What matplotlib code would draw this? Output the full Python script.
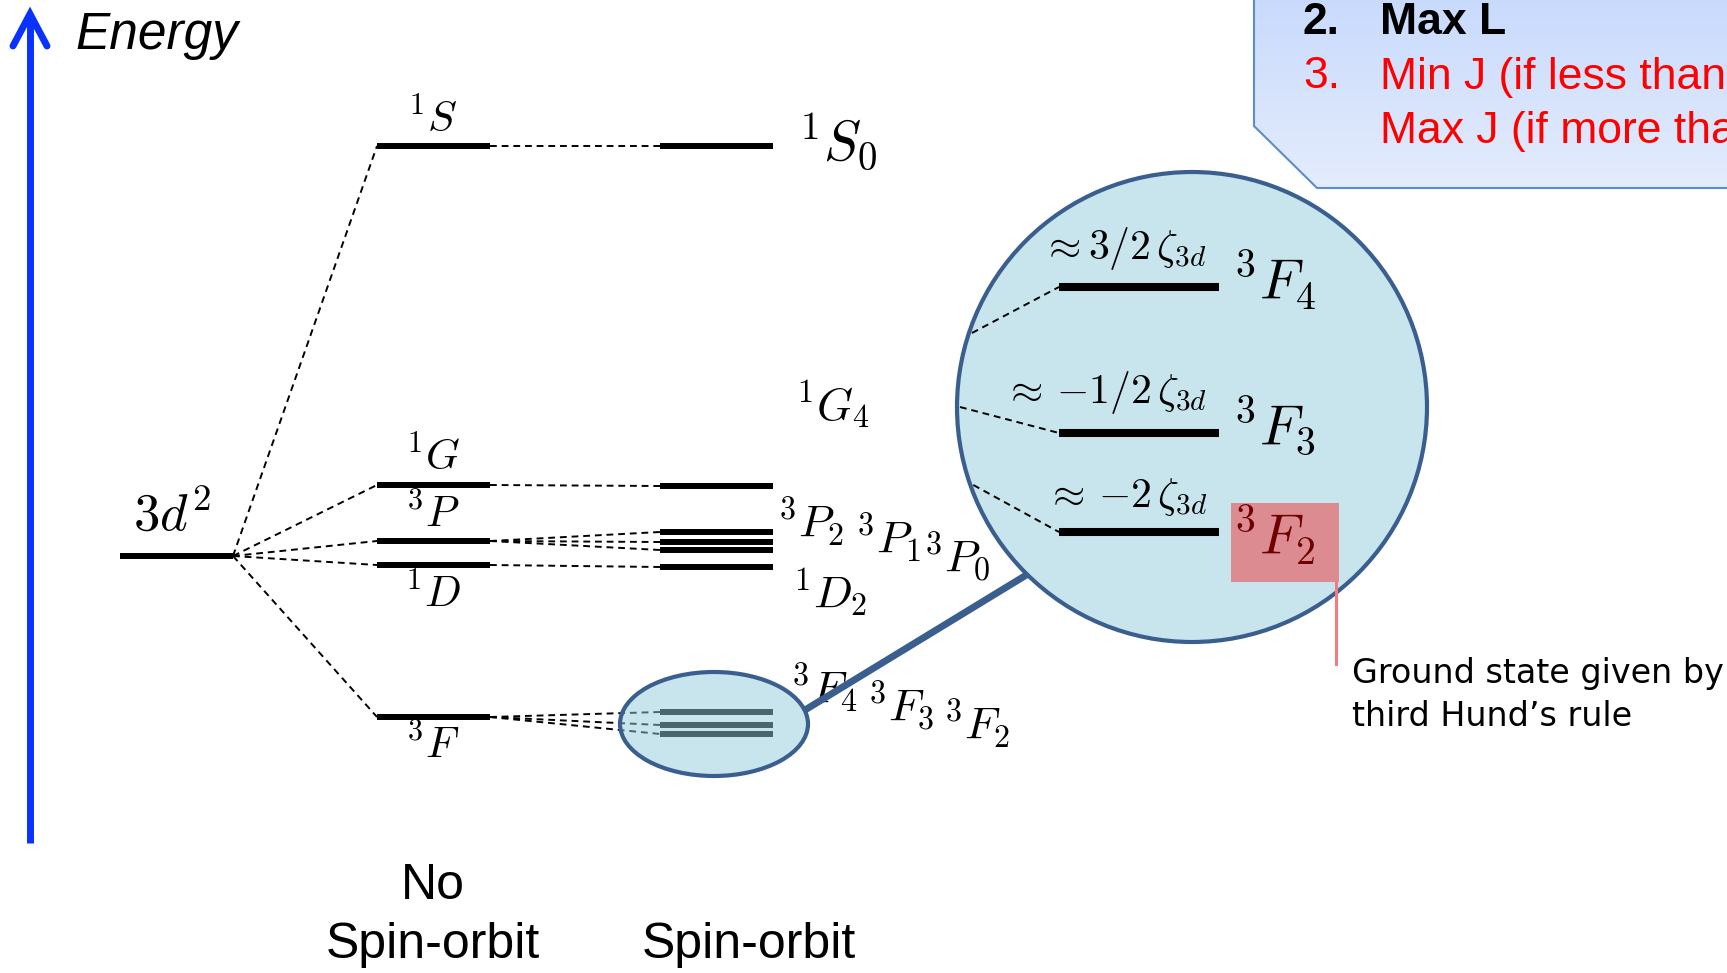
import numpy as np
import matplotlib.pyplot as plt
from matplotlib.patches import Circle, Ellipse, Polygon, Rectangle

plt.rcParams['mathtext.fontset'] = 'cm'

# term energies (drawing units, y grows downward)
ground_y = 556
terms = [r'$^1S$', r'$^1G$', r'$^3P$', r'$^1D$', r'$^3F$']
term_y = [146, 485, 541, 565, 717]
term_label_y = [119, 457, 515, 594, 746]

# spin-orbit split levels per term
so_y = [[146], [486], [532, 542, 550], [567], [712, 725, 734]]
so_labels = [r'$^1S_0$', r'$^1G_4$', r'$^3P_2$', r'$^3P_1$', r'$^3P_0$', r'$^1D_2$',
             r'$^3F_4$', r'$^3F_3$', r'$^3F_2$']
so_label_xy = [(798, 142), (795, 405), (777, 522), (855, 538), (923, 557), (792, 593),
               (790, 688), (867, 706), (943, 724)]
so_label_size = [40, 33, 33, 33, 33, 33, 33, 33, 33]

# zoomed 3F multiplet
zoom_y = [287, 433, 532]
zoom_terms = [r'$^3F_4$', r'$^3F_3$', r'$^3F_2$']
zoom_label_y = [281, 426, 536]
zoom_shift = [r'$\approx 3/2\,\zeta_{3d}$', r'$\approx\,{-}1/2\,\zeta_{3d}$', r'$\approx\,{-}2\,\zeta_{3d}$']
zoom_shift_y = [249, 392, 497]
zoom_dash_y = [333, 407, 485]

fig = plt.figure(figsize=(17.27, 9.73), dpi=100)
ax = fig.add_axes([0, 0, 1, 1])
ax.set_xlim(0, 1727)
ax.set_ylim(973, 0)
ax.axis('off')

dash = dict(color='black', lw=1.4, ls=(0, (3.5, 2.5)), zorder=1)
bar = dict(color='black', lw=4.3, solid_capstyle='butt', zorder=2)

# energy axis
blue = '#0a32ff'
ax.plot([30, 30], [843, 16], color=blue, lw=5, solid_capstyle='butt')
ax.plot([13, 30, 47], [46, 14, 46], color=blue, lw=5, solid_capstyle='round', solid_joinstyle='miter')
ax.text(75, 35, 'Energy', fontsize=37, style='italic', family='Liberation Sans', va='center')

# configuration
ax.plot([120, 233], [ground_y, ground_y], **bar)
ax.text(172, 516, r'$3d^2$', fontsize=38, ha='center', va='center')

for i, y in enumerate(term_y):
    ax.plot([233, 377], [ground_y, y], **dash)
    ax.plot([377, 490], [y, y], **bar)
    ax.text(433, term_label_y[i], terms[i], fontsize=31, ha='center', va='center')
    for ys in so_y[i]:
        ax.plot([490, 660], [y, ys], **dash)
        ax.plot([660, 773], [ys, ys], **bar)

for lab, (x, y), fs in zip(so_labels, so_label_xy, so_label_size):
    ax.text(x, y, lab, fontsize=fs, ha='left', va='center')

# highlight of the 3F multiplet
ax.add_patch(Ellipse((714, 724), 188, 104, facecolor='#92cadd', alpha=0.5, edgecolor='none', zorder=3))
ax.add_patch(Ellipse((714, 724), 188, 104, facecolor='none', edgecolor='#3a5f8f', lw=3, zorder=4))

cx, cy, r = 1192, 407, 235
ax.plot([805, 1028], [710, 574], color='#3a5f8f', lw=5, solid_capstyle='butt', zorder=4)
ax.add_patch(Circle((cx, cy), r, facecolor='#c8e4ed', edgecolor='#3a5f8f', lw=3, zorder=5))

for i, y in enumerate(zoom_y):
    x0 = cx - np.sqrt(r ** 2 - (zoom_dash_y[i] - cy) ** 2) + 3
    ax.plot([x0, 1059], [zoom_dash_y[i], y], color='black', lw=1.4, ls=(0, (3.5, 2.5)), zorder=6)
    ax.plot([1059, 1219], [y, y], color='black', lw=5.8, solid_capstyle='butt', zorder=6)
    ax.text(1207, zoom_shift_y[i], zoom_shift[i], fontsize=30, ha='right', va='center', zorder=7)

ax.add_patch(Rectangle((1231, 503), 108, 79, facecolor='#dc8c90', edgecolor='none', zorder=6))
ax.plot([1336, 1336], [582, 664], color='#f47c7c', lw=2.2, zorder=6)
for i, y in enumerate(zoom_label_y):
    col = '#700000' if i == 2 else 'black'
    ax.text(1233, y, zoom_terms[i], fontsize=41, ha='left', va='center', color=col, zorder=7)

ax.text(1352, 674, 'Ground state given by', fontsize=24, va='center', family='DejaVu Sans', zorder=7)
ax.text(1352, 717, 'third Hund\u2019s rule', fontsize=24, va='center', family='DejaVu Sans', zorder=7)

# Hund's rules callout, gradient filled
box = Polygon([(1254, -5), (1254, 126), (1317, 188), (1740, 188), (1740, -5)],
              closed=True, facecolor='none', edgecolor='#5b8bd0', lw=1.5, zorder=9)
ax.add_patch(box)
grad = np.linspace(0, 1, 64)[:, None, None]
top = np.array([200, 218, 252]) / 255
bot = np.array([228, 236, 252]) / 255
img = ax.imshow(top + (bot - top) * grad * np.ones((1, 2, 1)), extent=(1254, 1740, 188, -5),
                aspect='auto', zorder=8)
img.set_clip_path(box)
ax.set_xlim(0, 1727)
ax.set_ylim(973, 0)

ax.text(1303, 23, '2.', fontsize=32, weight='bold', family='Liberation Sans', va='center', zorder=10)
ax.text(1380, 23, 'Max L', fontsize=32, weight='bold', family='Liberation Sans', va='center', zorder=10)
ax.text(1303, 77, '3.', fontsize=32, color='red', family='Liberation Sans', va='center', zorder=10)
ax.text(1380, 77, 'Min J (if less than half-filled)', fontsize=32, color='red',
        family='Liberation Sans', va='center', zorder=10)
ax.text(1380, 132, 'Max J (if more than half-filled)', fontsize=32, color='red',
        family='Liberation Sans', va='center', zorder=10)

# column captions
ax.text(433, 886, 'No', fontsize=36, ha='center', va='center', family='Liberation Sans')
ax.text(433, 945, 'Spin-orbit', fontsize=36, ha='center', va='center', family='Liberation Sans')
ax.text(749, 945, 'Spin-orbit', fontsize=36, ha='center', va='center', family='Liberation Sans')

fig.savefig('out.png', dpi=100)
